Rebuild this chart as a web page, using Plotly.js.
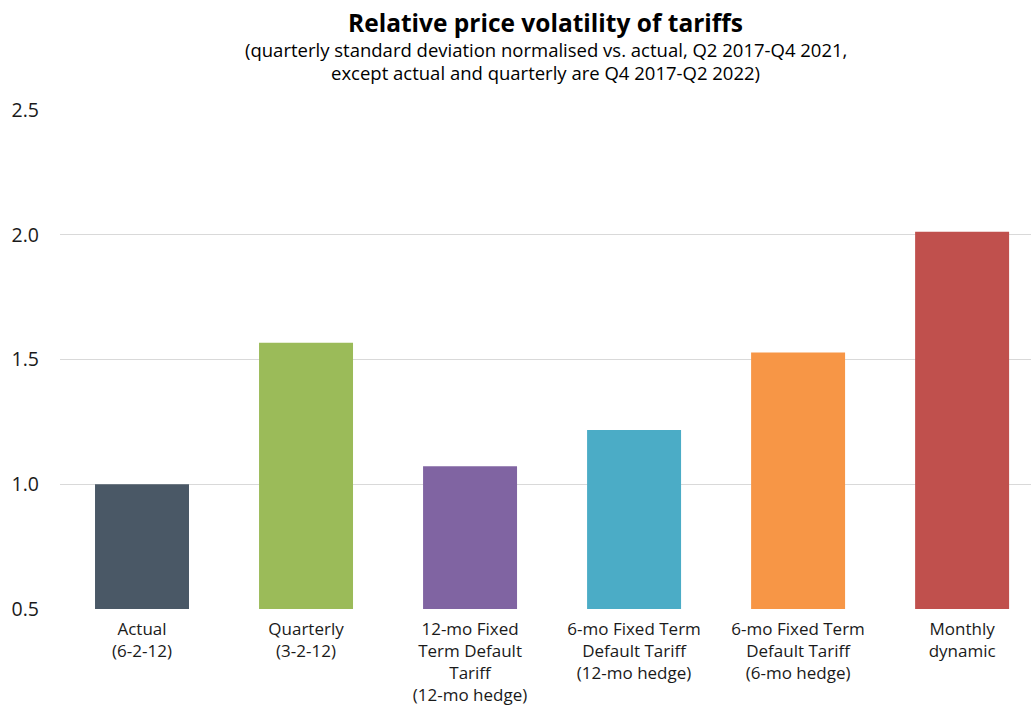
<!DOCTYPE html>
<html><head><meta charset="utf-8">
<script src="https://cdn.plot.ly/plotly-3.0.1.min.js"></script>
<style>body{margin:0;background:#fff}#chart{width:1031px;height:709px}</style>
</head><body><div id="chart"></div>
<script>
const categories = ["Actual<br>(6-2-12)", "Quarterly<br>(3-2-12)", "12-mo Fixed<br>Term Default<br>Tariff<br>(12-mo hedge)", "6-mo Fixed Term<br>Default Tariff<br>(12-mo hedge)", "6-mo Fixed Term<br>Default Tariff<br>(6-mo hedge)", "Monthly<br>dynamic"];
const values = [1.0, 1.567, 1.072, 1.217, 1.528, 2.012];
const colors = ["#4A5866", "#9BBB59", "#8064A2", "#4BACC6", "#F79646", "#C0504D"];
const yTicks = [0.5, 1.0, 1.5, 2.0, 2.5];
const yTickText = ["0.5", "1.0", "1.5", "2.0", "2.5"];
const titleText = "Relative price volatility of tariffs";
const subtitleLines = ["(quarterly standard deviation normalised vs. actual, Q2 2017-Q4 2021,", "except actual and quarterly are Q4 2017-Q2 2022)"];
const FONT = "'Open Sans', sans-serif";

const annotations = [
  {text: "<b>" + titleText + "</b>", xref: "paper", yref: "paper",
   x: 0.5, y: 1, yshift: 88, xanchor: "center", yanchor: "middle", showarrow: false,
   font: {size: 24.5, family: FONT, color: "#000"}}
];
subtitleLines.forEach((t, i) => annotations.push({
  text: t, xref: "paper", yref: "paper", x: 0.5, y: 1, yshift: 60.5 - 23 * i,
  xanchor: "center", yanchor: "middle", showarrow: false,
  font: {size: 18.5, family: FONT, color: "#000"}
}));

Plotly.newPlot("chart", [{
  type: "bar", x: [0,1,2,3,4,5], y: values, base: 0,
  marker: {color: colors}, hoverinfo: "skip"
}], {
  width: 1031, height: 709,
  margin: {l: 60, r: 0, t: 110, b: 100},
  paper_bgcolor: "#fff", plot_bgcolor: "#fff",
  font: {family: FONT, size: 17, color: "#1a1a1a"},
  bargap: 0.427,
  showlegend: false,
  xaxis: {range: [-0.5, 5.42], tickvals: [0,1,2,3,4,5], ticktext: categories,
          showgrid: false, zeroline: false, showline: false, ticks: "", tickangle: 0,
          ticklabelstandoff: 8, tickfont: {size: 17, family: FONT}},
  yaxis: {range: [0.5, 2.5], tickvals: yTicks, ticktext: yTickText,
          showgrid: true, gridcolor: "#d9d9d9", gridwidth: 1, zeroline: false,
          showline: false, ticks: "", ticklabelstandoff: 20, tickfont: {size: 19.5, family: FONT}},
  annotations: annotations
}, {displayModeBar: false, staticPlot: true});
</script></body></html>
